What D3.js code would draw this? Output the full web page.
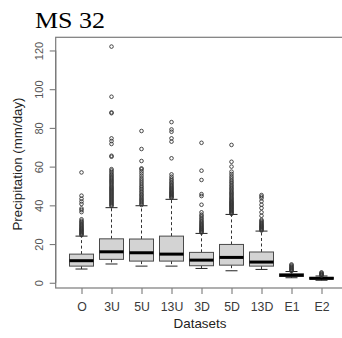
<!DOCTYPE html>
<html>
<head>
<meta charset="utf-8">
<script src="https://cdn.jsdelivr.net/npm/d3@7"></script>
<style>
  html, body { margin: 0; padding: 0; background: #fff; }
  svg { display: block; }
</style>
</head>
<body>
<svg id="chart" width="342" height="338"></svg>
<script>
// Five-number summaries per dataset (mm/day)
const categories   = ["O", "3U", "5U", "13U", "3D", "5D", "13D", "E1", "E2"];
const lowWhisker   = [7.1, 9.7, 8.6, 8.6, 7.4, 6.2, 6.9, 2.6, 1.3];
const q1           = [8.6, 12.1, 11.2, 11.2, 8.8, 9.1, 8.6, 3.3, 1.9];
const medians      = [11.4, 16.0, 15.5, 14.8, 11.7, 13.1, 10.7, 3.9, 2.3];
const q3           = [14.8, 22.7, 22.6, 24.1, 15.7, 19.8, 15.9, 4.6, 2.8];
const highWhisker  = [24.1, 38.8, 39.8, 43.1, 25.5, 35.3, 26.7, 5.8, 3.5];

// Outlying daily values per dataset
const outO   = [24.6,25.0,25.4,25.8,26.2,26.6,27.0,27.4,27.8,28.2,28.7,29.2,29.7,30.2,30.8,31.4,32.0,32.8,36.5,37.6,38.4,40.7,42.0,43.4,45.0,57.0];
const out3U  = [39.6,40.1,40.6,41.1,41.6,42.1,42.6,43.1,43.6,44.1,44.6,45.1,45.6,46.1,46.6,47.1,47.6,48.1,48.6,49.1,49.6,50.2,50.8,51.4,52.0,52.6,53.2,53.8,54.4,55.0,55.7,56.4,57.2,58.0,58.7,65.1,65.6,71.7,73.2,74.6,87.6,88.0,96.1,122.0];
const out5U  = [40.2,40.8,41.4,42.0,42.6,43.2,43.9,44.6,45.3,46.0,46.8,47.6,48.4,49.2,50.0,51.0,52.0,53.0,54.0,55.2,56.4,57.5,58.6,59.1,62.9,69.1,78.4];
const out13U = [43.8,44.2,44.6,45.0,45.4,45.8,46.2,46.6,47.0,47.5,48.0,48.5,49.0,49.6,50.2,50.8,51.5,52.2,53.0,53.8,54.8,56.0,64.3,72.9,74.6,78.0,79.2,83.0];
const out3D  = [25.9,26.3,26.7,27.1,27.5,27.9,28.3,28.8,29.3,29.8,30.3,30.9,31.5,32.1,32.8,33.6,34.4,35.2,36.4,40.3,44.8,45.8,53.1,57.9,72.3];
const out5D  = [35.6,36.0,36.4,36.8,37.2,37.6,38.0,38.4,38.8,39.2,39.6,40.0,40.4,40.8,41.2,41.6,42.0,42.5,43.0,43.5,44.0,44.6,45.2,45.8,46.4,47.0,47.7,48.4,49.1,49.8,50.6,51.4,52.2,53.0,54.0,55.0,56.2,57.4,60.0,62.5,71.2];
const out13D = [27.0,27.4,27.8,28.2,28.6,29.0,29.4,29.8,30.3,30.8,31.3,31.9,32.5,34.6,36.4,38.6,40.3,42.1,43.6,44.5,45.3];
const outE1  = [6.0,6.4,6.8,7.2,7.6,8.0,8.5,9.0,9.5];
const outE2  = [3.7,4.0,4.3,4.6,5.0,5.4];
const outliers = [outO, out3U, out5U, out13U, out3D, out5D, out13D, outE1, outE2];

const yTicks = [0, 20, 40, 60, 80, 100, 120];

const svg = d3.select("#chart");
const plotLeft = 55.7, plotRight = 347.3, plotTop = 37.3, plotBottom = 288;

// Group i sits at position i+1, as in a classic boxplot layout
const x = d3.scaleLinear().domain([0.14, 9.86]).range([plotLeft, plotRight]);
const y = d3.scaleLinear().domain([-2.7, 126.8]).range([plotBottom, plotTop]);

const axisColor = "#7a7a7a";
const textColor = "#3a3a3a";
const boxW = 24, stapleW = 12;

const data = categories.map((c, i) => ({
  name: c, pos: i + 1,
  lo: lowWhisker[i], q1: q1[i], med: medians[i], q3: q3[i], hi: highWhisker[i],
  out: outliers[i]
}));

const g = svg.append("g");

// Whiskers (dashed) and staples
const groups = g.selectAll("g.box").data(data).join("g").attr("class", "box");
groups.append("line")
  .attr("x1", d => x(d.pos)).attr("x2", d => x(d.pos))
  .attr("y1", d => y(d.q3)).attr("y2", d => y(d.hi))
  .attr("stroke", "#333").attr("stroke-width", 1).attr("stroke-dasharray", "3,2.5");
groups.append("line")
  .attr("x1", d => x(d.pos)).attr("x2", d => x(d.pos))
  .attr("y1", d => y(d.q1)).attr("y2", d => y(d.lo))
  .attr("stroke", "#333").attr("stroke-width", 1).attr("stroke-dasharray", "3,2.5");
groups.append("line")
  .attr("x1", d => x(d.pos) - stapleW / 2).attr("x2", d => x(d.pos) + stapleW / 2)
  .attr("y1", d => y(d.hi)).attr("y2", d => y(d.hi))
  .attr("stroke", "#222").attr("stroke-width", 1);
groups.append("line")
  .attr("x1", d => x(d.pos) - stapleW / 2).attr("x2", d => x(d.pos) + stapleW / 2)
  .attr("y1", d => y(d.lo)).attr("y2", d => y(d.lo))
  .attr("stroke", "#222").attr("stroke-width", 1);

// Boxes
groups.append("rect")
  .attr("x", d => x(d.pos) - boxW / 2)
  .attr("width", boxW)
  .attr("y", d => y(d.q3))
  .attr("height", d => y(d.q1) - y(d.q3))
  .attr("fill", "#d3d3d3").attr("stroke", "#4a4a4a").attr("stroke-width", 1);

// Medians
groups.append("line")
  .attr("x1", d => x(d.pos) - boxW / 2).attr("x2", d => x(d.pos) + boxW / 2)
  .attr("y1", d => y(d.med)).attr("y2", d => y(d.med))
  .attr("stroke", "#000").attr("stroke-width", 3);

// Outliers
groups.selectAll("circle")
  .data(d => d.out.map(v => ({ pos: d.pos, v })))
  .join("circle")
  .attr("cx", d => x(d.pos)).attr("cy", d => y(d.v))
  .attr("r", 1.8).attr("fill", "none").attr("stroke", "#333").attr("stroke-width", 0.9);

// Frame
svg.append("rect")
  .attr("x", plotLeft).attr("y", plotTop)
  .attr("width", plotRight - plotLeft).attr("height", plotBottom - plotTop)
  .attr("fill", "none").attr("stroke", axisColor).attr("stroke-width", 1.2);

// Y axis
const yAxis = d3.axisLeft(y).tickValues(yTicks).tickSize(6).tickPadding(6);
const ya = svg.append("g").attr("transform", `translate(${plotLeft},0)`).call(yAxis);
ya.select(".domain").attr("stroke", axisColor).attr("stroke-width", 1.2)
  .attr("d", `M0,${y(0)}V${y(120)}`);
ya.selectAll(".tick line").attr("stroke", axisColor).attr("stroke-width", 1.1);
ya.selectAll(".tick text")
  .attr("x", null).attr("dy", null)
  .attr("transform", "translate(-13,0) rotate(-90)")
  .attr("text-anchor", "middle")
  .attr("font-family", "Liberation Sans, Arial, sans-serif")
  .attr("font-size", 11).attr("fill", "#555");

// X axis
const xAxis = d3.axisBottom(x)
  .tickValues(data.map(d => d.pos))
  .tickFormat((d, i) => categories[i])
  .tickSize(6).tickPadding(8);
const xa = svg.append("g").attr("transform", `translate(0,${plotBottom})`).call(xAxis);
xa.select(".domain").remove();
xa.selectAll(".tick line").attr("stroke", axisColor).attr("stroke-width", 1.1);
xa.selectAll(".tick text")
  .attr("font-family", "Liberation Sans, Arial, sans-serif")
  .attr("font-size", 12.3).attr("fill", textColor);

// Axis titles
svg.append("text")
  .attr("x", 200).attr("y", 328)
  .attr("text-anchor", "middle")
  .attr("font-family", "Liberation Sans, Arial, sans-serif")
  .attr("font-size", 13.4).attr("fill", "#222")
  .text("Datasets");

svg.append("text")
  .attr("transform", `translate(22,164) rotate(-90)`)
  .attr("text-anchor", "middle")
  .attr("font-family", "Liberation Sans, Arial, sans-serif")
  .attr("font-size", 13.3).attr("fill", "#222")
  .text("Precipitation (mm/day)");

// Title
svg.append("text")
  .attr("x", 35).attr("y", 28)
  .attr("font-family", "Liberation Serif, Times New Roman, serif")
  .attr("font-size", 23.5).attr("fill", "#000")
  .attr("textLength", 70).attr("lengthAdjust", "spacingAndGlyphs")
  .text("MS 32");
</script>
</body>
</html>
